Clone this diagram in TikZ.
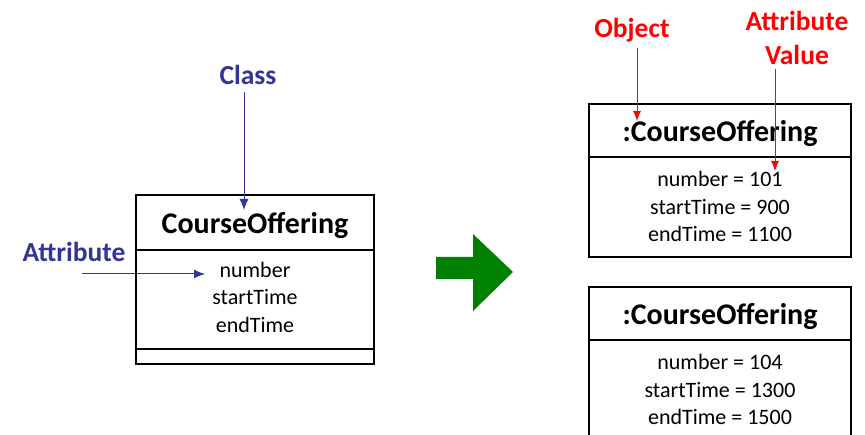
\documentclass[tikz,border=0pt]{standalone}
\usepackage{fontspec}
\setmainfont{Carlito}
\usetikzlibrary{arrows.meta}
\definecolor{clsblue}{RGB}{51,51,153}
\definecolor{objred}{RGB}{255,0,0}
\definecolor{gogreen}{RGB}{0,128,0}

\begin{document}
\begin{tikzpicture}[x=1pt,y=-1pt,
    umlbox/.style={draw,line width=1.6pt},
    boxtitle/.style={font=\fontsize{30}{34}\selectfont\bfseries,inner sep=1pt},
    attrs/.style={font=\fontsize{22}{27.5}\selectfont,align=center,inner sep=1pt},
    callout/.style={font=\fontsize{27.5}{34}\selectfont\bfseries,align=center},
    ptr/.style={-{Latex[length=11pt,width=9pt]},line width=1pt}]
  \useasboundingbox (0,0) rectangle (865,435);
  % class box
  \draw[umlbox] (136,195) rectangle (374,364);
  \draw[umlbox] (136,250) -- (374,250);
  \draw[umlbox] (136,349) -- (374,349);
  \node[boxtitle](cname)at(255,226){CourseOffering};
  \node[attrs](cattr)at(255,297){number\\startTime\\endTime};
  % blue callouts
  \node[callout,text=clsblue](clslbl)at(248,75){Class};
  \node[callout,text=clsblue](attlbl)at(74,252){Attribute};
  \coordinate (clstip) at (244,210);
  \coordinate (atttip) at (205,274);
  \draw[ptr,clsblue,shorten <=4pt] (clslbl.south -| clstip) -- (clstip);
  \draw[ptr,clsblue] ([xshift=8pt]attlbl.south |- atttip) -- (atttip);
  % green arrow
  \fill[gogreen] (436,257) -- (473,257) -- (473,234) -- (513,272) -- (473,311)
                 -- (473,279) -- (436,279) -- cycle;
  % object boxes
  \foreach \t/\nm/\st/\en/\id in {104/101/900/1100/oa,287/104/1300/1500/ob}{
    \draw[umlbox] (589,\t) rectangle (851,\t+153);
    \draw[umlbox] (589,\t+53) -- (851,\t+53);
    \node[boxtitle](\id name)at(720,\t+29.5){:CourseOffering};
    \node[attrs](\id attr)at(720,\t+102.5){number = \nm\\startTime = \st\\endTime = \en};
  }
  % red callouts
  \node[callout,text=objred](objlbl)at(632,30){Object};
  \node[callout,text=objred](vallbl)at(797,38){Attribute\\Value};
  \coordinate (objtip) at (637,121);
  \coordinate (valtip) at (775,171);
  \draw[ptr,objred,line width=0.8pt,-{Latex[length=10pt,width=8pt]},shorten <=3pt] (objlbl.south -| objtip) -- (objtip);
  \draw[ptr,objred,line width=0.8pt,-{Latex[length=10pt,width=8pt]},shorten <=1pt] (vallbl.south -| valtip) -- (valtip);
\end{tikzpicture}
\end{document}
